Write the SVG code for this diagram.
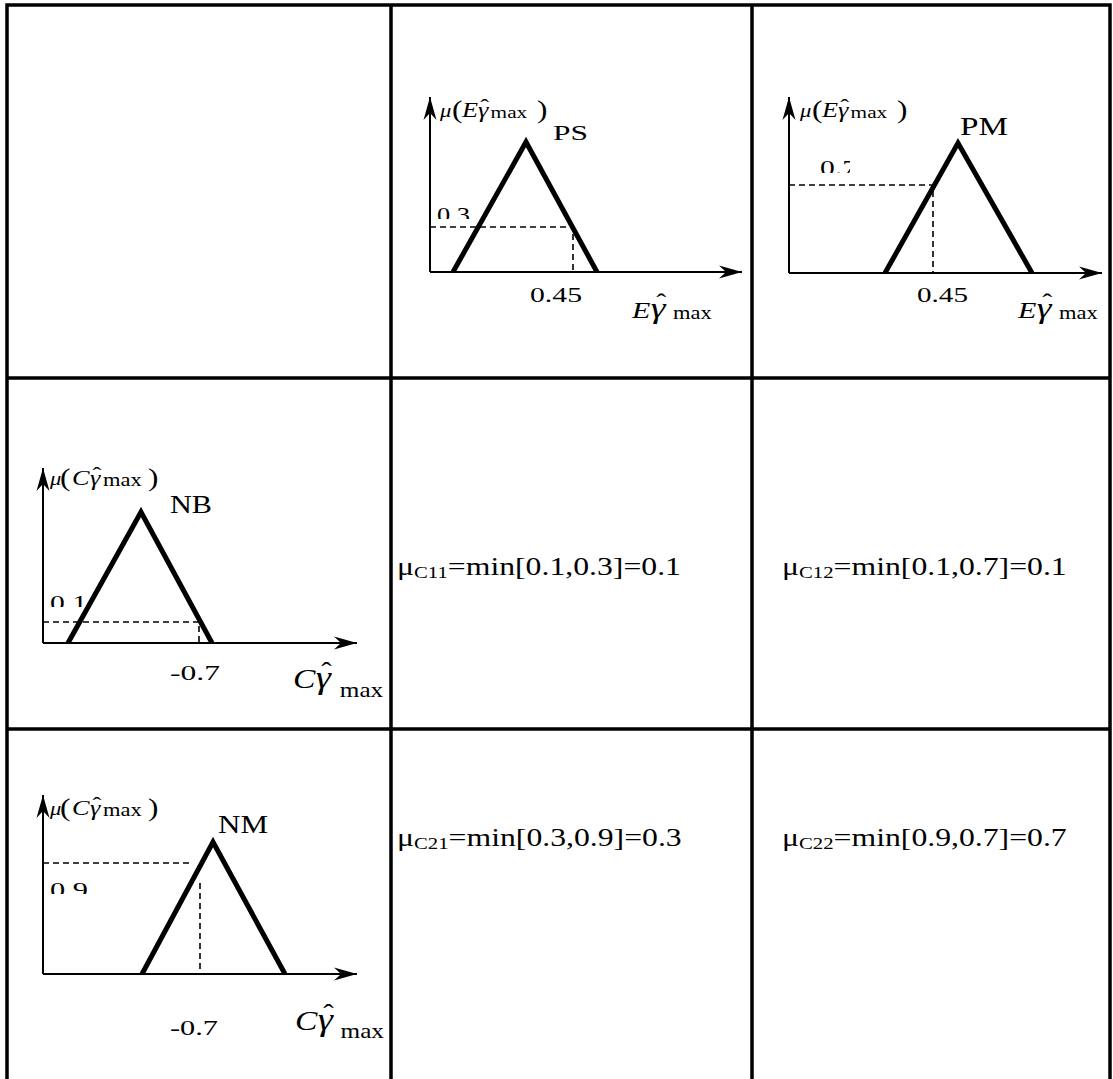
<svg xmlns="http://www.w3.org/2000/svg" width="1113" height="1079" viewBox="0 0 1113 1079">
<style>
.grid{stroke:#000;stroke-width:3.5;fill:none}
.axis{stroke:#000;stroke-width:2;fill:none}
.tri{stroke:#000;stroke-width:5;fill:none;stroke-linejoin:miter}
.dash{stroke:#000;stroke-width:1.6;fill:none;stroke-dasharray:6,4}
text{font-family:"Liberation Serif","Times New Roman",serif;fill:#000}
.n{font-size:22px}
.lab{font-size:25px}
.it{font-style:italic}
.cell{font-size:26px}
.cs{font-size:17px}
</style>
<defs>
<marker id="ah" markerUnits="userSpaceOnUse" markerWidth="26" markerHeight="16" viewBox="-24 -8 26 16" refX="0" refY="0" orient="auto">
<path d="M0,0 L-23,-6.5 L-16,0 L-23,6.5 Z" fill="#000"/>
</marker>
<clipPath id="c1"><rect x="430" y="195" width="60" height="24"/></clipPath>
<clipPath id="c2"><rect x="790" y="150" width="60" height="23"/></clipPath>
<clipPath id="c3"><rect x="44" y="585" width="60" height="22"/></clipPath>
<clipPath id="c4"><rect x="44" y="872" width="60" height="22"/></clipPath>
</defs>
<rect width="1113" height="1079" fill="#fff"/>
<g id="table">
<path class="grid" d="M7,1079 V5 H1110 V1079 M391,5 V1079 M752,5 V1079 M7,378 H1110 M7,729 H1110"/>
</g>
<g id="connectors">
<path class="axis" d="M430,272 V97" marker-end="url(#ah)"/>
<path class="axis" d="M430,272 H742" marker-end="url(#ah)"/>
<path class="axis" d="M789,273 V97" marker-end="url(#ah)"/>
<path class="axis" d="M789,273 H1102" marker-end="url(#ah)"/>
<path class="axis" d="M43,643 V468" marker-end="url(#ah)"/>
<path class="axis" d="M43,643 H357" marker-end="url(#ah)"/>
<path class="axis" d="M43,974 V795" marker-end="url(#ah)"/>
<path class="axis" d="M43,974 H357" marker-end="url(#ah)"/>
</g>
<g id="plot-PS">
<polyline class="tri" points="453,272 526,142 597,272"/>
<path class="dash" d="M430,227 H573 V272"/>
<text class="n" x="437" y="222" textLength="33" lengthAdjust="spacingAndGlyphs" clip-path="url(#c1)">0.3</text>
<text class="n" x="530" y="302" textLength="52" lengthAdjust="spacingAndGlyphs">0.45</text>
<text class="n" x="553" y="140" textLength="35" lengthAdjust="spacingAndGlyphs">PS</text>
<text transform="translate(440,117) scale(1.25,1)"><tspan x="0" y="0" class="it" font-size="18">μ</tspan><tspan x="9.6" y="1" font-size="25">(</tspan><tspan x="17.6" y="0" class="it" font-size="21">E</tspan><tspan x="30.4" y="0" class="it" font-size="21">γ</tspan><tspan x="32.3" y="-3" font-size="21">ˆ</tspan><tspan x="40.5" y="1" font-size="17">max</tspan><tspan x="77.6" y="1" font-size="25">)</tspan></text>
<text transform="translate(632,318) scale(1.25,1)"><tspan x="0" y="0" class="it" font-size="24">E</tspan><tspan x="15" y="0" class="it" font-size="30">γ</tspan><tspan x="19.5" y="-8" font-size="24">ˆ</tspan><tspan x="32.8" y="1" font-size="18">max</tspan></text>
</g>
<g id="plot-PM">
<polyline class="tri" points="885,273 958,143 1032,273"/>
<path class="dash" d="M789,185 H933 V273"/>
<text class="n" x="820" y="175" textLength="37" lengthAdjust="spacingAndGlyphs" clip-path="url(#c2)">0.7</text>
<text class="n" x="917" y="302" textLength="51" lengthAdjust="spacingAndGlyphs">0.45</text>
<text class="lab" x="960" y="135" textLength="48" lengthAdjust="spacingAndGlyphs">PM</text>
<text transform="translate(800,117) scale(1.25,1)"><tspan x="0" y="0" class="it" font-size="18">μ</tspan><tspan x="9.6" y="1" font-size="25">(</tspan><tspan x="17.6" y="0" class="it" font-size="21">E</tspan><tspan x="30.4" y="0" class="it" font-size="21">γ</tspan><tspan x="32.3" y="-3" font-size="21">ˆ</tspan><tspan x="40.5" y="1" font-size="17">max</tspan><tspan x="77.6" y="1" font-size="25">)</tspan></text>
<text transform="translate(1018,318) scale(1.25,1)"><tspan x="0" y="0" class="it" font-size="24">E</tspan><tspan x="15" y="0" class="it" font-size="30">γ</tspan><tspan x="19.5" y="-8" font-size="24">ˆ</tspan><tspan x="32.8" y="1" font-size="18">max</tspan></text>
</g>
<g id="plot-NB">
<polyline class="tri" points="68,643 141,512 212,643"/>
<path class="dash" d="M43,622 H199 V643"/>
<text class="n" x="50" y="610" textLength="37" lengthAdjust="spacingAndGlyphs" clip-path="url(#c3)">0.1</text>
<text class="n" x="170" y="680" textLength="50" lengthAdjust="spacingAndGlyphs">-0.7</text>
<text class="lab" x="170" y="513" textLength="42" lengthAdjust="spacingAndGlyphs">NB</text>
<text transform="translate(50,485) scale(1.25,1)"><tspan x="0" y="0" class="it" font-size="18">μ</tspan><tspan x="8" y="1" font-size="25">(</tspan><tspan x="17.6" y="0" class="it" font-size="21">C</tspan><tspan x="32" y="0" class="it" font-size="21">γ</tspan><tspan x="34" y="-3" font-size="21">ˆ</tspan><tspan x="42.4" y="1" font-size="18">max</tspan><tspan x="78.4" y="1" font-size="25">)</tspan></text>
<text transform="translate(293,688) scale(1.2,1)"><tspan x="0" y="0" class="it" font-size="28">C</tspan><tspan x="19" y="0" class="it" font-size="32">γ</tspan><tspan x="23.5" y="-8.5" font-size="26">ˆ</tspan><tspan x="39" y="9" font-size="21">max</tspan></text>
</g>
<g id="plot-NM">
<polyline class="tri" points="142,974 213,842 285,974"/>
<path class="dash" d="M43,863 H193 M200,883 V974"/>
<text class="n" x="50" y="897" textLength="38" lengthAdjust="spacingAndGlyphs" clip-path="url(#c4)">0.9</text>
<text class="n" x="170" y="1035" textLength="48" lengthAdjust="spacingAndGlyphs">-0.7</text>
<text class="lab" x="218" y="833" textLength="50" lengthAdjust="spacingAndGlyphs">NM</text>
<text transform="translate(50,815) scale(1.25,1)"><tspan x="0" y="0" class="it" font-size="18">μ</tspan><tspan x="8" y="1" font-size="25">(</tspan><tspan x="17.6" y="0" class="it" font-size="21">C</tspan><tspan x="32" y="0" class="it" font-size="21">γ</tspan><tspan x="34" y="-3" font-size="21">ˆ</tspan><tspan x="42.4" y="1" font-size="18">max</tspan><tspan x="78.4" y="1" font-size="25">)</tspan></text>
<text transform="translate(295,1030) scale(1.2,1)"><tspan x="0" y="0" class="it" font-size="28">C</tspan><tspan x="19" y="0" class="it" font-size="32">γ</tspan><tspan x="23.5" y="-8.5" font-size="26">ˆ</tspan><tspan x="38" y="8" font-size="21">max</tspan></text>
</g>
<g id="cell-c11"><text class="cell" transform="translate(397,575) scale(1.22,1)">μ<tspan class="cs" dy="3">C11</tspan><tspan dy="-3">=min[0.1,0.3]=0.1</tspan></text></g>
<g id="cell-c12"><text class="cell" transform="translate(782,575) scale(1.22,1)">μ<tspan class="cs" dy="3">C12</tspan><tspan dy="-3">=min[0.1,0.7]=0.1</tspan></text></g>
<g id="cell-c21"><text class="cell" transform="translate(397,846) scale(1.22,1)">μ<tspan class="cs" dy="3">C21</tspan><tspan dy="-3">=min[0.3,0.9]=0.3</tspan></text></g>
<g id="cell-c22"><text class="cell" transform="translate(782,846) scale(1.22,1)">μ<tspan class="cs" dy="3">C22</tspan><tspan dy="-3">=min[0.9,0.7]=0.7</tspan></text></g>
</svg>
